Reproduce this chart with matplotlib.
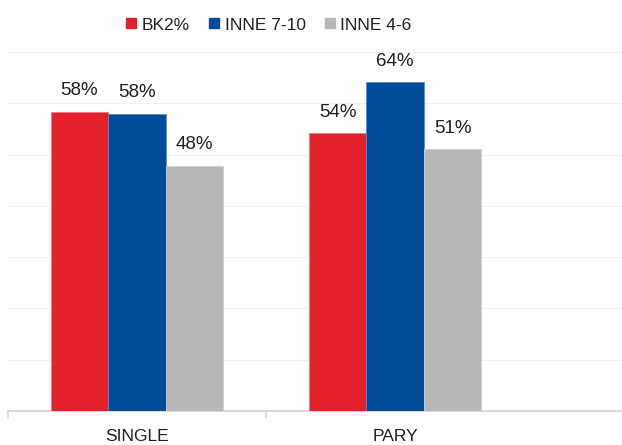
import matplotlib
matplotlib.use("Agg")
import matplotlib.pyplot as plt
from matplotlib.lines import Line2D
import numpy as np

# Data
categories = ["SINGLE", "PARY"]
series_names = ["BK2%", "INNE 7-10", "INNE 4-6"]
bk2 = [58.35, 54.2]
inne_7_10 = [57.95, 64.1]
inne_4_6 = [47.8, 51.0]

colors = ["#E3212D", "#004C99", "#B7B7B7"]
edge_colors = ["#F07A80", "#5A8CC8", "#D0D0D0"]
text_color = "#1F1F1F"
font = ["Liberation Sans", "DejaVu Sans"]

fig = plt.figure(figsize=(6.22, 4.45), dpi=100)
ax = fig.add_axes([8 / 622, 34 / 445, 614 / 622, 359 / 445])

x = np.arange(len(categories))
width = 0.223
series = [bk2, inne_7_10, inne_4_6]

for i, (vals, col, ec) in enumerate(zip(series, colors, edge_colors)):
    pos = x + (i - 1) * width
    bars = ax.bar(pos, vals, width=width, color=col, edgecolor=ec,
                  linewidth=0.6, zorder=3)
    for b, v in zip(bars, vals):
        ax.annotate(f"{v:.0f}%", (b.get_x() + b.get_width() / 2, v),
                    xytext=(0, 9), textcoords="offset points",
                    ha="center", va="bottom", fontsize=13.5,
                    color=text_color, family=font, annotation_clip=False)

ax.set_xlim(-0.5, -0.5 + 614 / 258)
ax.set_ylim(0, 70)

# Faint horizontal gridlines
ax.set_yticks(np.arange(10, 71, 10))
ax.yaxis.grid(True, color="#F0F0F0", linewidth=0.8, zorder=0)
ax.tick_params(axis="y", left=False, labelleft=False)

# Category labels and boundary ticks
ax.set_xticks(x)
ax.set_xticklabels(categories, fontsize=12.5, color=text_color, family=font)
ax.tick_params(axis="x", which="major", length=0, pad=13)
ax.set_xticks([-0.5, 0.5], minor=True)
ax.tick_params(axis="x", which="minor", length=5, width=1.2,
               color="#D9D9D9", direction="out")

for side in ["top", "right", "left"]:
    ax.spines[side].set_visible(False)
ax.spines["bottom"].set_color("#D9D9D9")
ax.spines["bottom"].set_linewidth(1.5)

handles = [Line2D([], [], linestyle="none", marker="s", markersize=7,
                  markerfacecolor=c, markeredgecolor=c) for c in colors]
fig.legend(handles, series_names, loc="center",
           bbox_to_anchor=(269 / 622, 1 - 25 / 445), ncol=3, frameon=False,
           handlelength=0.6, handletextpad=0.3, columnspacing=1.1,
           prop={"family": font, "size": 12.5}, labelcolor=text_color)

fig.savefig("out.png", dpi=100)
